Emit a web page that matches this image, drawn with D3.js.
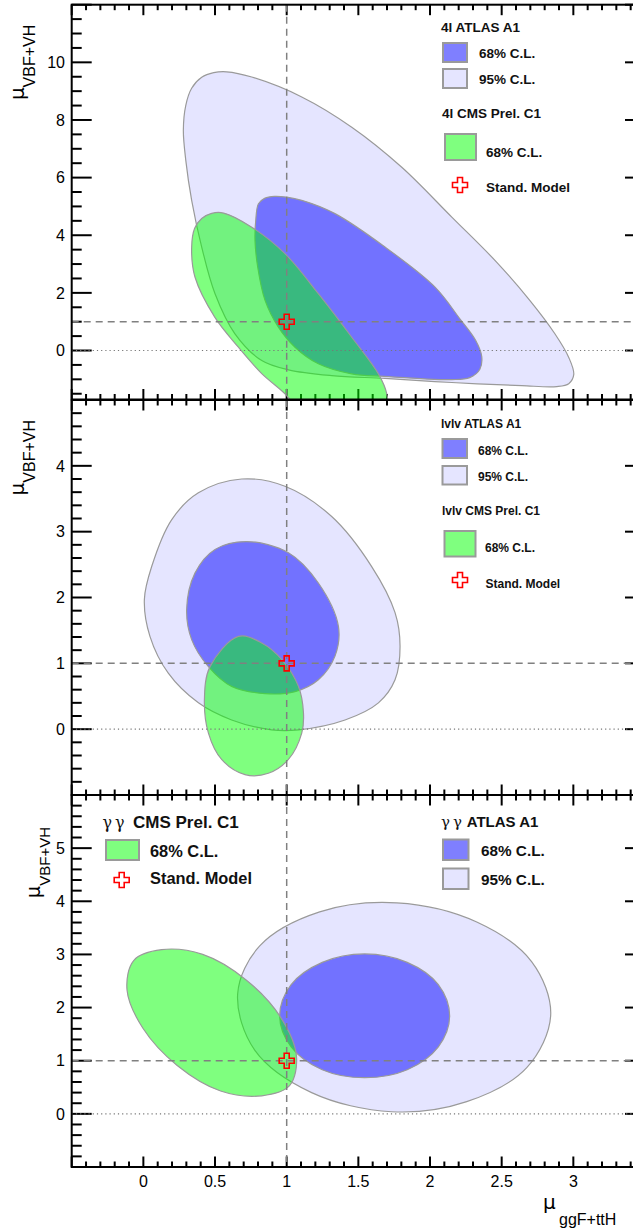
<!DOCTYPE html>
<html><head><meta charset="utf-8">
<script src="https://cdn.jsdelivr.net/npm/d3@7"></script>
<style>body{margin:0;background:#fff}svg{display:block}</style>
</head><body><div id="chart"></div>
<script>
// ---------------- data ----------------
const xTickLabels = [0, 0.5, 1, 1.5, 2, 2.5, 3];
const xDomain = [-0.5, 3.5];

// panel 1 : 4l
const p1Domain = [-1.7, 12];
const p1TickLabels = [0, 2, 4, 6, 8, 10];
const atlas4l95 = [[0.279,7.64],[0.296,8.51],[0.337,9.10],[0.407,9.48],[0.491,9.64],[0.581,9.67],[0.756,9.49],[1.105,8.80],[1.454,7.75],[1.803,6.36],[2.152,4.63],[2.466,3.06],[2.696,1.74],[2.87,0.59],[2.968,-0.24],[3.003,-0.83],[2.968,-1.15],[2.884,-1.25],[2.64,-1.22],[2.152,-1.11],[1.686,-0.97],[1.314,-0.87],[1.012,-0.67],[0.826,-0.35],[0.639,0.58],[0.50,1.97],[0.407,3.59],[0.337,5.21],[0.296,6.60]];
const atlas4l68 = [[0.784,4.51],[0.803,5.09],[0.846,5.28],[0.916,5.35],[1.0,5.32],[1.105,5.21],[1.337,4.75],[1.686,3.59],[2.035,2.20],[2.207,1.11],[2.319,0.35],[2.361,-0.21],[2.347,-0.66],[2.277,-0.94],[2.152,-1.01],[1.684,-0.90],[1.453,-0.81],[1.221,-0.46],[1.058,0.115],[0.942,0.81],[0.849,1.74],[0.798,2.89],[0.779,3.82]];
const cms4l68 = [[0.337,3.59],[0.358,4.24],[0.407,4.58],[0.477,4.76],[0.56,4.77],[0.756,4.28],[0.988,3.36],[1.221,1.97],[1.454,0.46],[1.64,-0.81],[1.698,-1.50],[1.698,-2.08],[1.593,-2.6],[1.384,-2.78],[1.14,-2.36],[0.988,-1.50],[0.826,-0.80],[0.663,0.115],[0.498,1.16],[0.36,2.55]];

// panel 2 : lvlv
const p2Domain = [-1, 5];
const p2TickLabels = [0, 1, 2, 3, 4];
const atlasWW95 = [[0.686,3.80],[0.988,3.69],[1.314,3.23],[1.593,2.47],[1.756,1.77],[1.791,1.26],[1.756,0.75],[1.64,0.40],[1.407,0.14],[1.082,-0.01],[0.895,-0.01],[0.616,0.14],[0.384,0.40],[0.174,0.85],[0.046,1.41],[0.007,1.97],[0.058,2.47],[0.197,3.18],[0.384,3.59]];
const atlasWW68 = [[0.721,2.85],[1.012,2.68],[1.221,2.22],[1.361,1.56],[1.337,1.11],[1.221,0.75],[1.058,0.57],[0.849,0.54],[0.616,0.65],[0.454,0.95],[0.337,1.36],[0.302,1.82],[0.36,2.37],[0.50,2.73]];
const cmsWW68 = [[0.663,1.41],[0.826,1.31],[0.965,1.06],[1.082,0.65],[1.117,0.25],[1.105,-0.06],[1.012,-0.46],[0.872,-0.67],[0.709,-0.69],[0.546,-0.46],[0.454,-0.06],[0.426,0.45],[0.465,0.95]];

// panel 3 : gamma gamma
const p3Domain = [-1, 6];
const p3TickLabels = [0, 1, 2, 3, 4, 5];
const atlasGG95 = [[2.842,1.86],[2.675,0.87],[2.256,0.23],[1.733,0.04],[1.174,0.40],[0.777,1.20],[0.658,2.26],[0.812,3.16],[1.23,3.80],[1.768,3.97],[2.326,3.61],[2.71,2.86]];
const atlasGG68 = [[2.137,1.84],[2.058,1.26],[1.841,0.83],[1.544,0.68],[1.248,0.83],[1.031,1.26],[0.951,1.84],[1.031,2.43],[1.248,2.85],[1.544,3.01],[1.841,2.85],[2.058,2.43]];
const cmsGG68 = [[1.02,0.53],[0.826,0.34],[0.539,0.43],[0.236,0.91],[-0.003,1.61],[-0.114,2.33],[-0.066,2.89],[0.127,3.09],[0.414,3.0],[0.717,2.52],[0.957,1.82],[1.068,1.09]];

const smPoint = [1, 1];
const legendP1 = ["4l ATLAS A1", "68% C.L.", "95% C.L.", "4l CMS Prel. C1", "68% C.L.", "Stand. Model"];
const legendP2 = ["lvlv ATLAS A1", "68% C.L.", "95% C.L.", "lvlv CMS Prel. C1", "68% C.L.", "Stand. Model"];
const legendP3L = ["CMS Prel. C1", "68% C.L.", "Stand. Model"];
const legendP3R = ["ATLAS A1", "68% C.L.", "95% C.L."];

// ---------------- drawing ----------------
const W = 633, H = 1232;
const svg = d3.select('#chart').append('svg').attr('width', W).attr('height', H)
  .style('font-family', '"Liberation Sans", Arial, Helvetica, sans-serif');
const defs = svg.append('defs');
const x = d3.scaleLinear().domain(xDomain).range([71.7, 645]);
const C95 = 'rgba(0,0,255,0.1)', C68 = 'rgba(0,0,255,0.5)', CG = 'rgba(0,255,0,0.5)';
const EDGE = '#9a9a9a';

function crossPath(cx, cy, s) {
  const a = s / 2, b = s / 6;
  return `M${cx-b},${cy-a}H${cx+b}V${cy-b}H${cx+a}V${cy+b}H${cx+b}V${cy+a}H${cx-b}V${cy+b}H${cx-a}V${cy-b}H${cx-b}Z`;
}
function cross(g, cx, cy) {
  g.append('path').attr('d', crossPath(cx, cy, 15)).attr('fill', 'none')
    .attr('stroke', '#ff0000').attr('stroke-width', 1.6);
}

function drawPanel(id, top, bottom, domain, tickLabels, majorStep, minorStep, contours, yTitle) {
  const y = d3.scaleLinear().domain(domain).range([bottom, top]);
  const [xl, xr] = x.range();
  const g = svg.append('g');
  const tk = g.append('g').attr('stroke', '#000').attr('stroke-width', 2);
  const eps = 1e-6;
  const yMinor = d3.range(Math.ceil(domain[0] / minorStep - eps) * minorStep, domain[1] + eps, minorStep);
  yMinor.forEach(v => {
    const isMaj = Math.abs(v / majorStep - Math.round(v / majorStep)) < 1e-4;
    const len = isMaj ? 20 : 10;
    tk.append('line').attr('x1', xl).attr('x2', xl + len).attr('y1', y(v)).attr('y2', y(v));
    tk.append('line').attr('x1', xr).attr('x2', xr - len).attr('y1', y(v)).attr('y2', y(v));
  });
  const xMinor = d3.range(-0.5, 3.5 + eps, 0.1);
  xMinor.forEach(v => {
    const isMaj = Math.abs(v * 2 - Math.round(v * 2)) < 1e-4;
    const len = isMaj ? 10.5 : 5.5;
    tk.append('line').attr('x1', x(v)).attr('x2', x(v)).attr('y1', bottom).attr('y2', bottom - len);
    tk.append('line').attr('x1', x(v)).attr('x2', x(v)).attr('y1', top).attr('y2', top + len);
  });
  g.append('g').selectAll('text').data(tickLabels).join('text')
    .attr('x', 65).attr('y', d => y(d)).attr('dy', '0.36em').attr('text-anchor', 'end')
    .attr('font-size', 16).text(d => d);
  defs.append('clipPath').attr('id', 'clip' + id).append('rect')
    .attr('x', xl).attr('y', top).attr('width', xr - xl).attr('height', bottom - top);
  const cg = g.append('g').attr('clip-path', `url(#clip${id})`);
  const line = d3.line().x(d => x(d[0])).y(d => y(d[1])).curve(d3.curveCatmullRomClosed.alpha(0.5));
  contours.forEach(c => {
    cg.append('path').attr('d', line(c.pts)).attr('fill', c.fill).attr('stroke', EDGE).attr('stroke-width', 1.2);
  });
  cg.append('line').attr('x1', xl).attr('x2', xr).attr('y1', y(0)).attr('y2', y(0))
    .attr('stroke', '#777').attr('stroke-width', 1.2).attr('stroke-dasharray', '1.2,3');
  cg.append('line').attr('x1', xl).attr('x2', xr).attr('y1', y(smPoint[1])).attr('y2', y(smPoint[1]))
    .attr('stroke', '#808080').attr('stroke-width', 1.5).attr('stroke-dasharray', '7,5');
  cg.append('line').attr('x1', x(smPoint[0])).attr('x2', x(smPoint[0])).attr('y1', top).attr('y2', bottom)
    .attr('stroke', '#808080').attr('stroke-width', 1.5).attr('stroke-dasharray', '7,5');
  cross(cg, x(smPoint[0]), y(smPoint[1]));
  g.append('rect').attr('x', xl).attr('y', top).attr('width', xr - xl).attr('height', bottom - top)
    .attr('fill', 'none').attr('stroke', '#000').attr('stroke-width', 2);
  const t = g.append('text').attr('transform', `translate(${yTitle.x},${top + yTitle.off}) rotate(-90)`)
    .attr('text-anchor', 'end');
  t.append('tspan').attr('font-size', yTitle.mu).attr('font-family', '"DejaVu Sans", sans-serif').text('μ');
  t.append('tspan').attr('font-size', yTitle.fs).attr('dy', yTitle.dy).text('VBF+VH');
  return y;
}

function legendBox(g, bx, by, bw, bh, fill) {
  g.append('rect').attr('x', bx).attr('y', by).attr('width', bw).attr('height', bh)
    .attr('fill', fill).attr('stroke', EDGE).attr('stroke-width', 2);
}
function ltext(g, tx, ty, s, fs) {
  g.append('text').attr('x', tx).attr('y', ty).attr('font-size', fs).attr('font-weight', 'bold').attr('fill', '#111').text(s);
}

drawPanel(1, 4.7, 399.5, p1Domain, p1TickLabels, 2, 0.5,
  [{pts: atlas4l95, fill: C95}, {pts: atlas4l68, fill: C68}, {pts: cms4l68, fill: CG}],
  {x: 24, off: 20, mu: 20, fs: 16, dy: 11});
{
  const g = svg.append('g'); const fs = 13.5;
  ltext(g, 441, 31.5, legendP1[0], fs);
  legendBox(g, 443, 43, 24, 19, C68); ltext(g, 479, 58, legendP1[1], fs);
  legendBox(g, 443, 69, 24, 19, C95); ltext(g, 479, 84, legendP1[2], fs);
  ltext(g, 442, 118, legendP1[3], fs);
  legendBox(g, 445, 134, 31, 26, CG); ltext(g, 486, 156.5, legendP1[4], fs);
  cross(g, 460, 185); ltext(g, 486, 192, legendP1[5], fs);
}

drawPanel(2, 400, 795, p2Domain, p2TickLabels, 1, 0.2,
  [{pts: atlasWW95, fill: C95}, {pts: atlasWW68, fill: C68}, {pts: cmsWW68, fill: CG}],
  {x: 24, off: 20, mu: 20, fs: 16, dy: 11});
{
  const g = svg.append('g'); const fs = 12;
  ltext(g, 441, 428, legendP2[0], fs);
  legendBox(g, 442.5, 439, 24.5, 19, C68); ltext(g, 478, 455, legendP2[1], fs);
  legendBox(g, 442.5, 466, 24.5, 18.5, C95); ltext(g, 478, 481, legendP2[2], fs);
  ltext(g, 442, 515, legendP2[3], fs);
  legendBox(g, 444.5, 531, 31, 25.5, CG); ltext(g, 485, 551.5, legendP2[4], fs);
  cross(g, 460, 580); ltext(g, 485.5, 588, legendP2[5], fs);
}

drawPanel(3, 795, 1167, p3Domain, p3TickLabels, 1, 0.2,
  [{pts: atlasGG95, fill: C95}, {pts: atlasGG68, fill: C68}, {pts: cmsGG68, fill: CG}],
  {x: 40, off: 32, mu: 19, fs: 15, dy: 10});
{
  const g = svg.append('g');
  const gam = (gx, gy, fs) => g.append('text').attr('x', gx).attr('y', gy).attr('font-size', fs)
    .attr('font-family', '"DejaVu Serif", serif').attr('fill', '#111').text('γ');
  gam(102.5, 828, 16); gam(115, 828, 16);
  ltext(g, 133, 828, legendP3L[0], 17);
  legendBox(g, 106, 840, 33, 20, CG); ltext(g, 150, 856.5, legendP3L[1], 16.4);
  cross(g, 121.7, 880); ltext(g, 150, 883.5, legendP3L[2], 16.4);

  gam(441, 826.5, 15); gam(453, 826.5, 15);
  ltext(g, 466.7, 826.5, legendP3R[0], 15);
  legendBox(g, 443, 839.5, 25.5, 20.5, C68); ltext(g, 481, 856, legendP3R[1], 15.3);
  legendBox(g, 443, 868.5, 25.5, 20.5, C95); ltext(g, 481, 884.5, legendP3R[2], 15.3);
}

svg.append('g').selectAll('text').data(xTickLabels).join('text')
  .attr('x', d => x(d)).attr('y', 1187).attr('text-anchor', 'middle').attr('font-size', 16).text(d => d);
{
  const t = svg.append('text').attr('x', 543).attr('y', 1209);
  t.append('tspan').attr('font-size', 20).attr('font-family', '"DejaVu Sans", sans-serif').text('μ');
  t.append('tspan').attr('x', 559).attr('y', 1225).attr('font-size', 16).text('ggF+ttH');
}
</script>
</body></html>
